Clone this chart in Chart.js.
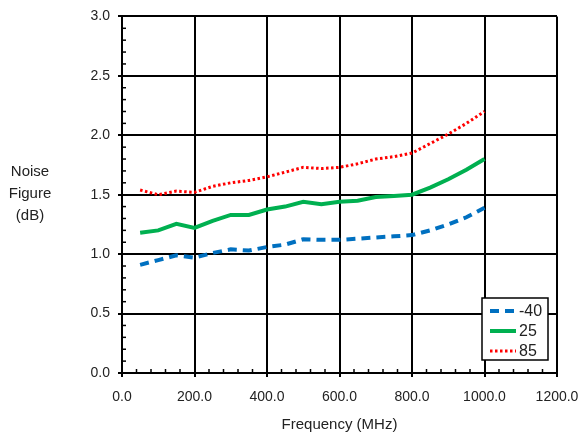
<!DOCTYPE html>
<html>
<head>
<meta charset="utf-8">
<script src="https://cdn.jsdelivr.net/npm/chart.js@4"></script>
<style>
  html, body { margin: 0; padding: 0; background: #fff; }
  #wrap { width: 579px; height: 437px; }
</style>
</head>
<body>
<div id="wrap"><canvas id="chart" width="579" height="437"></canvas></div>
<script>
const freq = [50, 100, 150, 200, 250, 300, 350, 400, 450, 500, 550, 600, 650, 700, 750, 800, 850, 900, 950, 1000];
const nfM40 = [0.91, 0.95, 0.99, 0.97, 1.01, 1.04, 1.03, 1.06, 1.08, 1.125, 1.12, 1.12, 1.13, 1.14, 1.15, 1.16, 1.20, 1.25, 1.31, 1.39];
const nf25 = [1.18, 1.20, 1.255, 1.22, 1.28, 1.33, 1.33, 1.375, 1.40, 1.44, 1.42, 1.44, 1.45, 1.48, 1.49, 1.50, 1.56, 1.63, 1.71, 1.80];
const nf85 = [1.54, 1.50, 1.53, 1.52, 1.57, 1.60, 1.62, 1.65, 1.69, 1.73, 1.72, 1.73, 1.76, 1.80, 1.82, 1.85, 1.93, 2.01, 2.10, 2.20];
const seriesNames = ['-40', '25', '85'];

const font = 'Liberation Sans';

function pts(ys) {
  return freq.map((f, i) => ({ x: f, y: ys[i] }));
}

const extras = {
  id: 'extras',
  afterDraw(chart) {
    const { ctx, chartArea: a, scales } = chart;
    const xs = scales.x, ys = scales.y;
    ctx.save();
    // minor ticks, inward
    ctx.strokeStyle = '#000';
    ctx.lineWidth = 1.5;
    for (let v = 40; v < 1200; v += 40) {
      if (v % 200 === 0) continue;
      const px = xs.getPixelForValue(v);
      ctx.beginPath();
      ctx.moveTo(px, a.bottom);
      ctx.lineTo(px, a.bottom - 4);
      ctx.stroke();
    }
    for (let i = 1; i < 30; i++) {
      if (i % 5 === 0) continue;
      const py = ys.getPixelForValue(i / 10);
      ctx.beginPath();
      ctx.moveTo(a.left, py);
      ctx.lineTo(a.left + 4, py);
      ctx.stroke();
    }

    // y axis title, horizontal
    ctx.fillStyle = '#222';
    ctx.font = '15px "' + font + '"';
    ctx.textAlign = 'center';
    ctx.textBaseline = 'middle';
    ['Noise', 'Figure', '(dB)'].forEach((t, i) => ctx.fillText(t, 30, 172 + i * 22));

    // legend box
    const bx = a.right - 75, by = a.bottom - 75, bw = 66, bh = 62;
    ctx.fillStyle = '#fff';
    ctx.fillRect(bx, by, bw, bh);
    ctx.lineWidth = 1.5;
    ctx.strokeStyle = '#000';
    ctx.strokeRect(bx, by, bw, bh);
    chart.data.datasets.forEach((ds, i) => {
      const y = by + 13 + i * 20;
      ctx.beginPath();
      ctx.setLineDash(ds.borderDash || []);
      ctx.lineWidth = ds.borderWidth;
      ctx.strokeStyle = ds.borderColor;
      ctx.moveTo(bx + 8, y);
      ctx.lineTo(bx + 34, y);
      ctx.stroke();
      ctx.setLineDash([]);
      ctx.fillStyle = '#222';
      ctx.font = '16px "' + font + '"';
      ctx.textAlign = 'left';
      ctx.fillText(ds.label, bx + 37, y + 1);
    });
    ctx.restore();
  }
};

new Chart(document.getElementById('chart'), {
  type: 'line',
  data: {
    datasets: [
      { label: seriesNames[0], data: pts(nfM40), borderColor: '#0070C0', borderWidth: 4, borderDash: [9, 6], pointRadius: 0, tension: 0 },
      { label: seriesNames[1], data: pts(nf25), borderColor: '#00B050', borderWidth: 4, pointRadius: 0, tension: 0 },
      { label: seriesNames[2], data: pts(nf85), borderColor: '#FF0000', borderWidth: 3, borderDash: [2.5, 2.5], pointRadius: 0, tension: 0 }
    ]
  },
  options: {
    responsive: false,
    animation: false,
    layout: { padding: { left: 0, top: 13, right: 22, bottom: 0 } },
    plugins: { legend: { display: false }, tooltip: { enabled: false } },
    scales: {
      x: {
        type: 'linear',
        min: 0, max: 1200,
        ticks: {
          stepSize: 200,
          color: '#222',
          font: { family: font, size: 14 },
          padding: 12,
          callback: v => v.toFixed(1)
        },
        grid: { color: '#000', lineWidth: 2, tickLength: 4 },
        border: { color: '#000', width: 2 },
        title: { display: true, text: 'Frequency (MHz)', color: '#222', font: { family: font, size: 15 }, padding: { top: 8, bottom: 3 } },
        afterFit: s => { s.height = 64; s.paddingLeft = 0; s.paddingRight = 0; }
      },
      y: {
        min: 0, max: 3,
        ticks: {
          stepSize: 0.5,
          color: '#222',
          font: { family: font, size: 14 },
          padding: 8,
          callback: v => v.toFixed(1)
        },
        grid: { color: '#000', lineWidth: 2, tickLength: 4 },
        border: { color: '#000', width: 2 },
        afterFit: s => { s.width = 122; }
      }
    }
  },
  plugins: [extras]
});
</script>
</body>
</html>
